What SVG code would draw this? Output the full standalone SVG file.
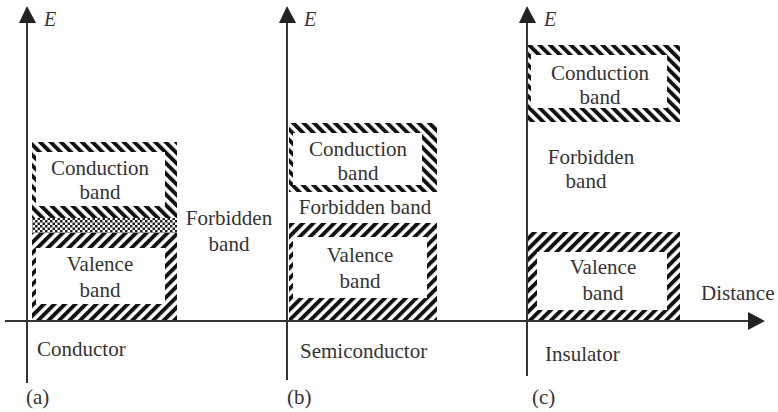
<svg xmlns="http://www.w3.org/2000/svg" width="778" height="412" viewBox="0 0 778 412">
<style>
.ax{stroke:#333;stroke-width:2;fill:none}
.ah{fill:#222}
.t{font-family:'Liberation Serif','Times New Roman',Tinos,'DejaVu Serif',serif;font-size:21px;fill:#333}
.c{text-anchor:middle}
.e{font-family:'Liberation Serif','Times New Roman',Tinos,'DejaVu Serif',serif;font-size:20px;font-style:italic;fill:#333}
.w{fill:#fff}
</style>
<defs>
<pattern id="bs" width="7.4" height="7.4" patternUnits="userSpaceOnUse" patternTransform="rotate(-45)">
<rect width="7.4" height="7.4" fill="#fff"/><rect width="3.9" height="7.4" fill="#111"/>
</pattern>
<pattern id="fs" width="7.4" height="7.4" patternUnits="userSpaceOnUse" patternTransform="rotate(45)">
<rect width="7.4" height="7.4" fill="#fff"/><rect width="3.9" height="7.4" fill="#111"/>
</pattern>
<pattern id="ck" width="5" height="5" patternUnits="userSpaceOnUse">
<rect width="5" height="5" fill="#fff"/><rect width="2.5" height="2.5" fill="#222"/><rect x="2.5" y="2.5" width="2.5" height="2.5" fill="#222"/>
</pattern>
</defs>

<g id="conductor">
<rect x="32" y="142" width="145" height="76" fill="url(#bs)"/>
<rect class="w" x="36" y="152" width="129" height="54"/>
<rect x="32" y="218" width="145" height="15" fill="url(#ck)"/>
<rect x="32" y="233" width="145" height="88" fill="url(#fs)"/>
<rect class="w" x="36" y="248" width="129" height="56"/>
<text class="t c" x="100" y="175">Conduction</text>
<text class="t c" x="100" y="199">band</text>
<text class="t c" x="100" y="271">Valence</text>
<text class="t c" x="100" y="297">band</text>
<text class="t c" x="229" y="225">Forbidden</text>
<text class="t c" x="229" y="251">band</text>
<text class="t" x="37" y="356">Conductor</text>
<text class="t" x="26" y="404">(a)</text>
</g>

<g id="semiconductor">
<rect x="289" y="123" width="148" height="69" fill="url(#bs)"/>
<rect class="w" x="293" y="133" width="129" height="52"/>
<rect x="289" y="223" width="148" height="98" fill="url(#fs)"/>
<rect class="w" x="293" y="237" width="134" height="61"/>
<text class="t c" x="358" y="156">Conduction</text>
<text class="t c" x="358" y="180">band</text>
<text class="t c" x="365" y="214">Forbidden band</text>
<text class="t c" x="360" y="262">Valence</text>
<text class="t c" x="360" y="288">band</text>
<text class="t" x="300" y="358">Semiconductor</text>
<text class="t" x="287" y="404">(b)</text>
</g>

<g id="insulator">
<rect x="527" y="45" width="153" height="77" fill="url(#bs)"/>
<rect class="w" x="531" y="55" width="136" height="53"/>
<rect x="528" y="232" width="152" height="89" fill="url(#fs)"/>
<rect class="w" x="537" y="252" width="130" height="58"/>
<text class="t c" x="600" y="80">Conduction</text>
<text class="t c" x="600" y="104">band</text>
<text class="t c" x="591" y="164">Forbidden</text>
<text class="t c" x="586" y="188">band</text>
<text class="t c" x="603" y="274">Valence</text>
<text class="t c" x="603" y="300">band</text>
<text class="t" x="545" y="361">Insulator</text>
<text class="t" x="532" y="404">(c)</text>
</g>

<g id="connectors">
<line class="ax" x1="27" y1="20" x2="27" y2="383"/>
<polygon class="ah" points="27,6 19,23 36,23"/>
<line class="ax" x1="287" y1="20" x2="287" y2="380"/>
<polygon class="ah" points="287,6 279,23 296,23"/>
<line class="ax" x1="527" y1="20" x2="527" y2="376"/>
<polygon class="ah" points="527,6 519,23 536,23"/>
<line class="ax" x1="5" y1="321" x2="750" y2="321"/>
<polygon class="ah" points="748,312 765,321 748,330"/>
</g>

<g id="labels">
<text class="e" x="44" y="26">E</text>
<text class="e" x="304" y="26">E</text>
<text class="e" x="544" y="26">E</text>
<text class="t" x="701" y="300">Distance</text>
</g>
</svg>
